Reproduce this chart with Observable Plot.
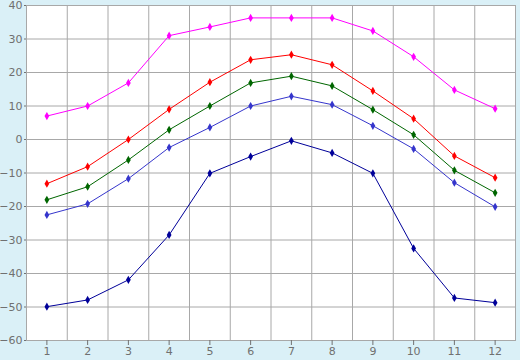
<!DOCTYPE html>
<html>
<head>
<meta charset="utf-8">
<script src="https://cdn.jsdelivr.net/npm/d3@7"></script>
<script src="https://cdn.jsdelivr.net/npm/@observablehq/plot@0.6"></script>
<style>
  html, body { margin: 0; padding: 0; background: #daf0f7; }
  #chart { width: 520px; height: 360px; }
</style>
</head>
<body>
<div id="chart"></div>
<script>
const months = [1, 2, 3, 4, 5, 6, 7, 8, 9, 10, 11, 12];
const yTicks = [-60, -50, -40, -30, -20, -10, 0, 10, 20, 30, 40];

const seriesNames = ["max", "highAvg", "avg", "lowAvg", "min"];
const seriesColors = ["#ff00ff", "#ff0000", "#006600", "#3535cc", "#000099"];

const maxVals     = [7, 10, 16.9, 31, 33.6, 36.3, 36.3, 36.3, 32.4, 24.7, 14.8, 9.2];
const highAvgVals = [-13.2, -8.1, 0, 9, 17.1, 23.8, 25.3, 22.3, 14.5, 6.2, -4.9, -11.4];
const avgVals     = [-18, -14.1, -6.1, 2.9, 10, 16.9, 18.9, 16, 8.9, 1.4, -9.2, -15.9];
const lowAvgVals  = [-22.5, -19.2, -11.7, -2.4, 3.6, 10, 12.9, 10.4, 4.1, -2.8, -12.9, -20.1];
const minVals     = [-49.9, -47.9, -41.9, -28.5, -10.1, -5.1, -0.4, -4, -10.1, -32.5, -47.3, -48.7];

const allVals = [maxVals, highAvgVals, avgVals, lowAvgVals, minVals];
const data = [];
seriesNames.forEach((s, i) => {
  months.forEach((m, j) => data.push({series: s, month: m, value: allVals[i][j]}));
});

const boundaries = months.slice(0, -1).map(m => m + 0.5);
const gray = "#a8a8a8";
const textGray = "#707070";

const chart = Plot.plot({
  width: 520,
  height: 360,
  marginLeft: 26,
  marginRight: 5,
  marginTop: 5,
  marginBottom: 20,
  style: {background: "#daf0f7", fontFamily: "DejaVu Sans, sans-serif", fontSize: "11px", color: textGray},
  x: {domain: [0.5, 12.5], ticks: months, tickFormat: d => String(d), label: null},
  y: {domain: [-60, 40], ticks: yTicks, label: null},
  color: {domain: seriesNames, range: seriesColors},
  marks: [
    Plot.frame({fill: "white"}),
    Plot.ruleX(boundaries, {stroke: gray, strokeWidth: 1, strokeOpacity: 1}),
    Plot.ruleY(yTicks, {stroke: gray, strokeWidth: 1, strokeOpacity: 1}),
    Plot.frame({stroke: gray, strokeWidth: 1}),
    Plot.axisX({ticks: months, tickSize: 5, tickPadding: 2, stroke: textGray, fill: textGray, fontSize: 11, label: null}),
    Plot.axisY({ticks: yTicks, tickSize: 2, tickPadding: 2, stroke: textGray, fill: textGray, fontSize: 11, label: null, tickFormat: d => d3.format("d")(d)}),
    Plot.line(data, {x: "month", y: "value", z: "series", stroke: "series", strokeWidth: 1}),
    Plot.dot(data, {x: "month", y: "value", fill: "series", symbol: "diamond", r: 2.5, stroke: "none"})
  ]
});
document.getElementById("chart").appendChild(chart);
</script>
</body>
</html>
